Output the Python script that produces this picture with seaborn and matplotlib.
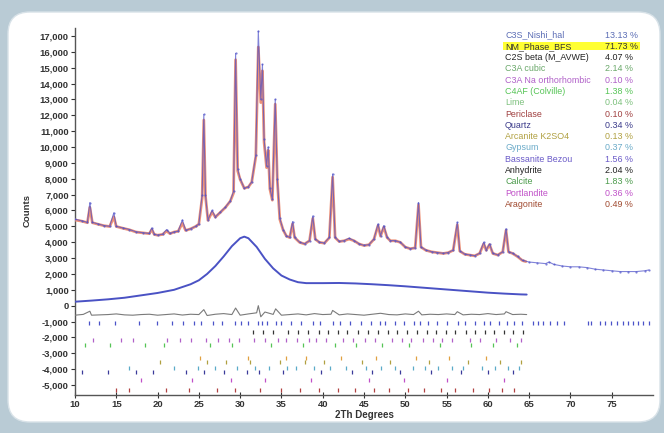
import matplotlib
matplotlib.use("Agg")
import matplotlib.pyplot as plt
from matplotlib.patches import FancyBboxPatch, Rectangle
import seaborn as sns
import pandas as pd

# ---------------- data ----------------
obs_x = [10.0, 10.8, 11.5, 11.8, 12.1, 12.8, 13.5, 14.2, 14.7, 15.0, 15.8, 16.6, 17.4, 18.2, 19.0,
         19.3, 19.6, 20.0, 20.6, 21.1, 21.5, 22.0, 22.5, 23.0, 23.4, 24.0, 24.6, 25.0, 25.4, 25.6,
         25.8, 26.1, 26.6, 27.0, 27.6, 28.2, 28.8, 29.2, 29.45, 29.7, 30.0, 30.5, 31.0, 31.4, 31.9,
         32.2, 32.5, 32.7, 32.9, 33.2, 33.4, 33.6, 33.9, 34.25, 34.5, 34.8, 35.2, 35.6, 36.0, 36.35,
         36.6, 37.2, 37.8, 38.4, 38.8, 39.1, 39.6, 40.2, 40.8, 41.2, 41.5, 42.0, 42.6, 43.2, 43.8,
         44.4, 45.0, 45.6, 46.2, 46.7, 47.0, 47.4, 47.8, 48.2, 48.8, 49.4, 50.0, 50.6, 51.2, 51.6,
         51.9, 52.5, 53.2, 53.9, 54.6, 55.2, 55.8, 56.3, 56.6, 57.2, 57.8, 58.4, 59.0, 59.5, 59.8,
         60.2, 60.6, 61.2, 61.8, 62.2, 62.5, 63.0, 63.6, 64.2, 65.0, 66.0, 67.0, 67.4, 68.0, 69.0,
         70.0, 71.0, 72.0, 73.0, 74.0, 75.0, 76.0, 77.0, 78.0, 79.0, 79.5]
obs_y = [5450, 5350, 5250, 6500, 5250, 5150, 5050, 5000, 5850, 5000, 4900, 4800, 4650, 4600, 4550,
         4900, 4500, 4450, 4500, 4800, 4550, 4650, 4700, 5400, 4750, 4850, 5000, 5150, 7000, 12050,
         7000, 5400, 6000, 5600, 5900, 6200, 6600, 7200, 15900, 8600, 8000, 7400, 7500, 7800, 9500,
         17300, 13000, 15200, 10500, 8800, 10000, 7400, 6700, 13000, 8000, 5500, 4800, 4400, 4300, 5300,
         4300, 4000, 3900, 4100, 5650, 4200, 4000, 3950, 4300, 8300, 4300, 4050, 4100, 4250, 4100,
         3900, 3800, 3850, 4200, 5150, 4400, 5050, 4300, 4100, 4100, 4000, 3700, 3600, 3650, 6500,
         3700, 3500, 3400, 3350, 3300, 3350, 3500, 5250, 3450, 3250, 3200, 3150, 3300, 4000, 3500,
         3900, 3300, 3200, 3400, 4850, 3400, 3300, 3100, 2850, 2750, 2700, 2650, 2750, 2600, 2500,
         2450, 2450, 2400, 2300, 2250, 2200, 2150, 2150, 2150, 2200, 2250]

calc_x = [10.0, 10.8, 11.5, 11.8, 12.1, 12.8, 13.5, 14.2, 14.7, 15.0, 15.8, 16.6, 17.4, 18.2, 19.0,
          19.3, 19.6, 20.0, 20.6, 21.1, 21.5, 22.0, 22.5, 23.0, 23.4, 24.0, 24.6, 25.0, 25.4, 25.6,
          25.8, 26.1, 26.6, 27.0, 27.6, 28.2, 28.8, 29.2, 29.45, 29.7, 30.0, 30.5, 31.0, 31.4, 31.9,
          32.2, 32.5, 32.7, 32.9, 33.2, 33.4, 33.6, 33.9, 34.25, 34.5, 34.8, 35.2, 35.6, 36.0, 36.35,
          36.6, 37.2, 37.8, 38.4, 38.8, 39.1, 39.6, 40.2, 40.8, 41.2, 41.5, 42.0, 42.6, 43.2, 43.8,
          44.4, 45.0, 45.6, 46.2, 46.7, 47.0, 47.4, 47.8, 48.2, 48.8, 49.4, 50.0, 50.6, 51.2, 51.6,
          51.9, 52.5, 53.2, 53.9, 54.6, 55.2, 55.8, 56.3, 56.6, 57.2, 57.8, 58.4, 59.0, 59.5, 59.8,
          60.2, 60.6, 61.2, 61.8, 62.2, 62.5, 63.0, 63.6, 64.2, 64.6]
calc_y = [5400, 5330, 5230, 6200, 5230, 5130, 5040, 4990, 5600, 4990, 4880, 4780, 4640, 4590, 4540,
          4800, 4490, 4440, 4490, 4700, 4540, 4640, 4690, 5200, 4740, 4840, 4990, 5140, 6800, 11700,
          6900, 5380, 5900, 5580, 5880, 6180, 6580, 7100, 15500, 8500, 7950, 7400, 7480, 7780, 9400,
          16300, 12800, 14800, 10300, 8700, 9800, 7350, 6650, 12700, 7900, 5450, 4780, 4390, 4290, 5150,
          4290, 3990, 3890, 4090, 5500, 4190, 3990, 3940, 4280, 8100, 4290, 4040, 4090, 4200, 4090,
          3890, 3790, 3840, 4180, 5050, 4380, 4950, 4290, 4090, 4090, 3990, 3690, 3590, 3640, 6350,
          3690, 3490, 3390, 3340, 3290, 3340, 3490, 5100, 3440, 3240, 3190, 3140, 3290, 3900, 3490,
          3850, 3290, 3190, 3390, 4750, 3390, 3290, 3090, 2840, 2780]

hump_x = [10, 12, 14, 16, 18, 20, 22, 24, 25, 26, 27, 28, 29, 30, 30.5, 31, 32, 33, 34, 35, 36,
          37, 38, 40, 42, 44, 46, 48, 50, 52, 54, 56, 58, 60, 62, 64, 64.7]
hump_y = [250, 320, 400, 500, 650, 800, 1000, 1350, 1600, 2000, 2500, 3100, 3750, 4250, 4350, 4250,
          3700, 2950, 2350, 1900, 1650, 1480, 1420, 1420, 1430, 1400, 1350, 1290, 1220, 1140, 1060,
          980, 900, 820, 760, 710, 700]

diff_x = [10, 11, 11.8, 12, 13, 14, 15, 16, 17, 18, 19, 20, 21, 22, 23, 24, 25, 25.6, 26, 27, 28,
          29, 29.45, 30, 31, 32, 32.2, 32.5, 33, 34, 34.3, 35, 36, 37, 38, 39, 40, 41, 41.2, 42, 43,
          44, 45, 46, 47, 48, 49, 50, 51, 51.6, 52, 53, 54, 55, 56, 56.3, 57, 58, 59, 60, 61, 62,
          62.2, 63, 64, 64.7]
diff_y = [-600, -550, -350, -600, -580, -560, -520, -580, -600, -560, -540, -600, -560, -520, -590,
          -540, -560, -250, -620, -540, -500, -560, -150, -600, -520, -450, 0, -700, -400, -550,
          -200, -600, -560, -520, -580, -500, -560, -540, -300, -580, -520, -560, -600, -540, -480,
          -560, -580, -520, -560, -350, -580, -540, -560, -520, -560, -380, -580, -540, -560, -500,
          -560, -520, -380, -560, -540, -560]

# reflection tick rows (phase, level, positions)
tick_c3s = [11.7, 12.9, 14.9, 17.8, 19.9, 21.8, 23.1, 24.4, 25.3, 26.7, 27.8, 29.4, 30.1, 31.0,
            32.2, 32.6, 33.2, 34.4, 35.0, 36.1, 37.4, 38.8, 39.7, 41.3, 42.1, 43.3, 44.6, 45.8,
            46.9, 47.6, 48.8, 49.9, 51.0, 51.8, 52.8, 53.9, 55.0, 56.4, 57.2, 58.5, 59.5, 60.3,
            61.4, 62.3, 63.2, 64.1, 65.5, 66.1, 66.7, 67.5, 68.4, 69.2, 72.1, 72.5, 73.6, 74.2,
            74.9, 75.6, 76.4, 77.0, 77.6, 78.2, 78.8, 79.5]
tick_c2s = [31.5, 32.8, 34.0, 35.8, 37.0, 38.2, 39.5, 40.6, 41.9, 43.0, 44.3, 45.5, 46.7, 47.9,
            49.0, 50.2, 51.4, 52.6, 53.7, 54.9, 56.0, 57.3, 58.4, 59.6, 60.8, 61.9, 63.1, 64.2]
tick_c3a = [12.2, 15.6, 17.0, 21.2, 22.7, 24.0, 25.9, 27.3, 28.6, 29.9, 31.7, 33.0, 34.6, 35.5,
            36.9, 38.3, 39.2, 40.4, 42.5, 43.7, 45.1, 46.3, 48.4, 49.6, 50.7, 52.2, 53.4, 54.5,
            55.7, 57.8, 59.0, 61.0, 62.7, 64.0]
tick_c4af = [11.2, 14.2, 18.5, 20.8, 26.4, 29.0, 33.7, 37.6, 41.5, 44.0, 47.2, 50.5, 54.2, 58.0,
             60.6, 63.5]
tick_orng = [25.1, 31.0, 35.5, 38.0, 42.2, 46.5, 51.3, 55.3, 59.8]
tick_olive = [20.3, 26.0, 28.3, 31.2, 34.8, 37.9, 40.1, 44.8, 48.1, 52.9, 57.6, 61.5, 64.0]
tick_teal = [16.5, 22.0, 24.9, 27.0, 29.6, 31.8, 33.5, 35.7, 36.8, 38.9, 40.9, 42.8, 45.3, 47.0,
             48.7, 50.9, 52.4, 54.0, 55.6, 57.0, 59.3, 60.9, 62.4, 63.8]
tick_navy = [10.8, 14.0, 17.4, 19.5, 23.5, 25.6, 28.0, 30.8, 32.3, 35.2, 39.8, 43.5, 46.0, 49.3,
             53.1, 56.7, 60.0, 63.0]
tick_mag = [18.0, 24.2, 28.9, 33.0, 38.6, 45.6, 49.8, 55.0, 62.0]
tick_red = [15.0, 16.5, 21.0, 23.8, 27.2, 29.4, 32.4, 35.0, 37.3, 39.6, 41.8, 43.9, 46.2, 48.0,
            50.3, 52.3, 54.3, 56.0, 58.2, 60.1, 61.7, 63.2]

phase_names = ["C3S_Nishi_hal", "NM_Phase_BFS", "C2S beta (M_AVWE)", "C3A cubic",
               "C3A Na orthorhombic", "C4AF (Colville)", "Lime", "Periclase", "Quartz",
               "Arcanite K2SO4", "Gypsum", "Bassanite Bezou", "Anhydrite", "Calcite",
               "Portlandite", "Aragonite"]
phase_pct = ["13.13 %", "71.73 %", "4.07 %", "2.14 %", "0.10 %", "1.38 %", "0.04 %", "0.10 %",
             "0.34 %", "0.13 %", "0.37 %", "1.56 %", "2.04 %", "1.83 %", "0.36 %", "0.49 %"]
phase_colors = ["#5b6db5", "#333333", "#222222", "#6aa86a", "#b060c8", "#55c455", "#7cc07c",
                "#a04040", "#3a3a8a", "#b0a040", "#6aaac8", "#6a5ac8", "#222222", "#4a9a4a",
                "#c050c8", "#a04a30"]

y_ticks = list(range(-5000, 17001, 1000))
x_ticks = list(range(10, 76, 5))

# ---------------- figure ----------------
sns.set_theme(style="white")
plt.rcParams["font.family"] = ["Liberation Sans", "DejaVu Sans"]

W, H = 664, 433
fig = plt.figure(figsize=(W / 100, H / 100), dpi=100)
fig.patch.set_facecolor("#b9cbd5")
panel = FancyBboxPatch((0.08, 0.11), 6.52, 4.10,
                       boxstyle="round,pad=0,rounding_size=0.22",
                       transform=fig.dpi_scale_trans, facecolor="white",
                       edgecolor="#d8e2e8", linewidth=1.0, zorder=-5)
fig.patches.append(panel)
fig.patches.append(Rectangle((503 / W, 1 - 50 / H), (640 - 503) / W, 8.5 / H,
                             transform=fig.transFigure, facecolor="#ffff33",
                             edgecolor="none", zorder=-4))

ax = fig.add_axes([75 / W, 1 - 395 / H, (653 - 75) / W, (395 - 28) / H])
ax.set_zorder(2)
ax.patch.set_alpha(0.0)

df_obs = pd.DataFrame({"x": obs_x, "y": obs_y})
df_calc = pd.DataFrame({"x": calc_x, "y": calc_y})
df_hump = pd.DataFrame({"x": hump_x, "y": hump_y})
df_diff = pd.DataFrame({"x": diff_x, "y": diff_y})

sns.lineplot(data=df_calc, x="x", y="y", ax=ax, color="#ee9278", linewidth=2.0,
             sort=False, estimator=None, zorder=3)
sns.lineplot(data=df_obs, x="x", y="y", ax=ax, color="#4b4fc8", linewidth=0.8, alpha=0.7,
             sort=False, estimator=None, marker="o", markersize=1.6, markeredgewidth=0,
             zorder=4)
sns.lineplot(data=df_hump, x="x", y="y", ax=ax, color="#4a52c4", linewidth=1.4,
             sort=False, estimator=None, zorder=3)
sns.lineplot(data=df_diff, x="x", y="y", ax=ax, color="#7a7a7a", linewidth=0.8,
             sort=False, estimator=None, zorder=3)

rows = [(tick_c3s, -1080, "#4a52c8"), (tick_c2s, -1650, "#333333"),
        (tick_c3a, -2150, "#b060c8"), (tick_c4af, -2450, "#55c455"),
        (tick_orng, -3300, "#e0a040"), (tick_olive, -3550, "#b0a040"),
        (tick_teal, -3900, "#5aaac8"), (tick_navy, -4150, "#3a3a9a"),
        (tick_mag, -4700, "#c050c8"), (tick_red, -5300, "#b04040")]
for pos, lvl, col in rows:
    dft = pd.DataFrame({"x": pos, "y": [lvl] * len(pos)})
    sns.scatterplot(data=dft, x="x", y="y", ax=ax, marker="|", s=9, color=col,
                    linewidth=0.9, zorder=2, legend=False)

ax.set_xlim(10, 80)
ax.set_ylim(-5630, 17500)
ax.set_yticks(y_ticks)
ax.set_yticklabels([f"{v:,}" for v in y_ticks])
ax.set_xticks(x_ticks)
ax.set_xticklabels([str(v) for v in x_ticks])
ax.tick_params(axis="both", labelsize=6.8, colors="#333333", length=3, width=0.8, pad=1.5,
               left=True, bottom=True)
ax.tick_params(axis="x", direction="inout", length=4)
for lab in ax.get_xticklabels() + ax.get_yticklabels():
    lab.set_fontweight("bold")
for s in ["top", "right"]:
    ax.spines[s].set_visible(False)
for s in ["left", "bottom"]:
    ax.spines[s].set_color("#555555")
    ax.spines[s].set_linewidth(1.0)
ax.set_xlabel("2Th Degrees", fontsize=7, fontweight="bold", color="#333333", labelpad=1)
ax.set_ylabel("")
fig.text(27 / W, 1 - 210 / H, "Counts", rotation=90, fontsize=6.8, fontweight="bold",
         color="#333333", ha="center", va="center")

# legend block (text)
for i, (nm, pc, col) in enumerate(zip(phase_names, phase_pct, phase_colors)):
    yy = 1 - (35 + i * 11.3) / H
    fig.text(505 / W, yy, nm, fontsize=6.4, color=col, ha="left", va="center")
    fig.text(605 / W, yy, pc, fontsize=6.4, color=col, ha="left", va="center")

fig.savefig("out.png", dpi=100, facecolor=fig.get_facecolor())
